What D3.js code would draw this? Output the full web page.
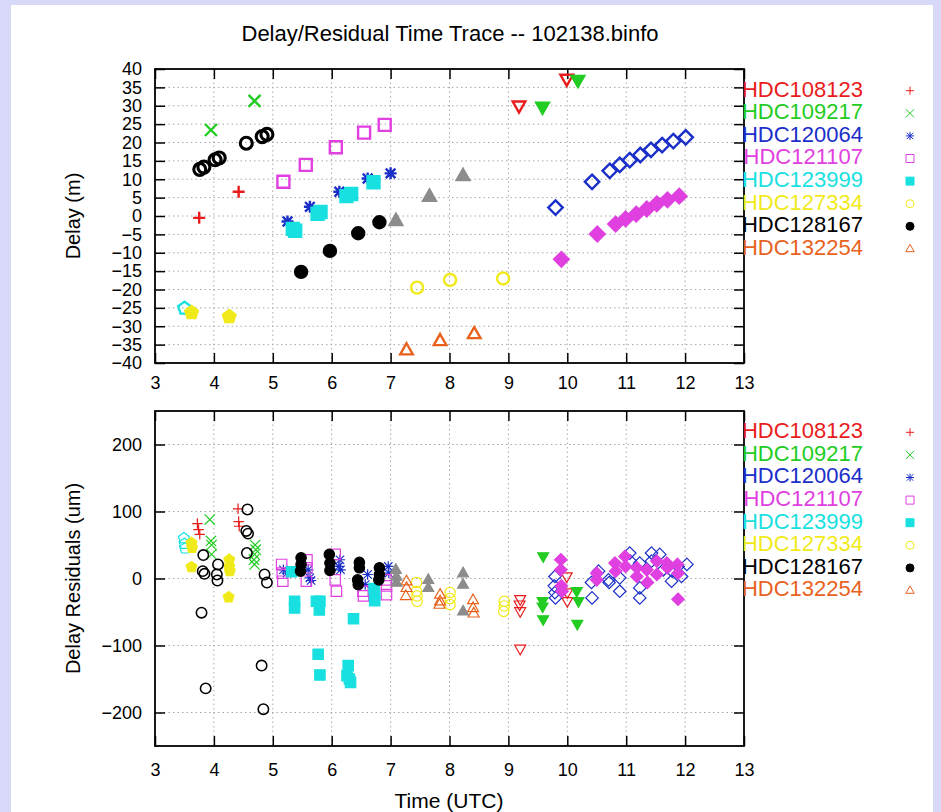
<!DOCTYPE html>
<html>
<head>
<meta charset="utf-8">
<script src="https://cdn.jsdelivr.net/npm/d3@7"></script>
<style>
  body { margin: 0; background: #d8d8f8; }
  svg { display: block; }
  text { font-family: "Liberation Sans", Arial, Helvetica, sans-serif; }
</style>
</head>
<body>
<svg id="chart" width="941" height="812"></svg>
<script>
// legend names (only the first 8 series have a key entry)
const stations = ["HDC108123", "HDC109217", "HDC120064", "HDC121107",
                  "HDC123999", "HDC127334", "HDC128167", "HDC132254"];

// x axis ticks (hours UTC)
const timeTicks = d3.range(3, 14);
const delayTicks = d3.range(-40, 41, 5);
const residTicks = [-200, -100, 0, 100, 200];

// delay (m) per series, [time, delay]
const delay01 = [[3.75, -0.5], [4.42, 6.6]];
const delay02 = [[3.95, 23.4], [4.69, 31.3]];
const delay03 = [[5.25, -1.5], [5.63, 2.5], [6.13, 6.6], [6.61, 10.2], [7.0, 11.6]];
const delay04 = [[5.18, 9.3], [5.56, 13.9], [6.07, 18.7], [6.55, 22.7], [6.9, 24.8]];
const delay05 = [[5.34, -3.5], [5.38, -4.0], [5.76, 0.6], [5.81, 1.1], [6.25, 5.4], [6.33, 6.0], [6.71, 9.2]];
const delay06 = [[7.45, -19.5], [8.01, -17.4], [8.91, -17.0]];
const delay07 = [[5.48, -15.2], [5.97, -9.5], [6.45, -4.7], [6.81, -1.7]];
const delay08 = [[7.27, -36.5], [7.84, -34.0], [8.42, -32.1]];
const delay09 = [[7.09, -1.3], [7.66, 5.3], [8.23, 10.9]];
const delay10 = [[9.18, 30.0], [9.99, 37.3]];
const delay11 = [[9.58, 29.7], [10.18, 37.0]];
const delay12 = [[9.80, 2.3], [10.42, 9.3], [10.72, 12.3], [10.89, 13.9], [11.06, 15.2], [11.24, 16.6],
                 [11.42, 18.0], [11.61, 19.3], [11.80, 20.4], [12.01, 21.4]];
const delay13 = [[9.90, -11.8], [10.51, -4.9], [10.82, -2.2], [10.99, -0.8], [11.17, 0.5], [11.35, 1.9],
                 [11.52, 3.3], [11.70, 4.4], [11.90, 5.4]];
const delay14 = [[3.5, -25.1]];
const delay15 = [[3.62, -26.3], [4.26, -27.4]];
const delay16 = [[3.76, 12.7], [3.83, 13.3], [4.02, 15.3], [4.09, 15.8], [4.55, 19.8], [4.82, 21.6], [4.9, 22.2]];

// delay residuals (um) per series, [time, residual]
const resid01 = [[3.72, 82], [3.74, 73], [3.76, 66], [4.41, 104], [4.42, 85], [4.43, 78]];
const resid02 = [[3.93, 88], [3.95, 56], [3.96, 50], [3.96, 36], [4.70, 50], [4.71, 43], [4.69, 36], [4.68, 28], [4.69, 21]];
const resid03 = [[5.18, 13], [5.24, 8], [5.6, 13], [5.63, 1], [5.65, -3], [6.14, 28], [6.15, 13], [6.12, 18],
                 [6.61, 6], [6.57, -9], [6.96, 18], [6.97, 8]];
const resid04 = [[5.15, 21], [5.16, 8], [5.17, -4], [5.58, 28], [5.58, 16], [5.57, -4], [6.06, 36], [6.06, -2],
                 [6.08, -19], [6.54, -26], [6.53, -19], [6.93, -11], [6.93, -24], [6.92, -2]];
const resid05 = [[5.32, 10], [5.37, -34], [5.37, -44], [5.74, -34], [5.8, -34], [5.79, -47], [5.77, -113], [5.8, -144],
                 [6.37, -60], [6.28, -130], [6.26, -145], [6.32, -155], [6.3, -150], [6.72, -15], [6.73, -25], [6.73, -33]];
const resid06 = [[7.44, -6], [7.44, -19], [7.45, -26], [7.45, -34], [8.01, -21], [8.01, -39], [8.01, -30],
                 [8.93, -34], [8.92, -49], [8.93, -41]];
const resid07 = [[5.48, 31], [5.48, 21], [5.47, 11], [5.96, 36], [5.97, 23], [5.97, 12], [6.47, 24], [6.47, 16],
                 [6.44, -2], [6.45, -9], [6.81, 16], [6.81, 6], [6.8, -2]];
const resid08 = [[7.27, -4], [7.27, -14], [7.26, -26], [7.84, -24], [7.84, -34], [7.83, -39], [8.40, -32], [8.40, -44], [8.41, -52]];
const resid09 = [[7.09, 13], [7.1, 3], [7.1, -6], [7.64, -2], [7.64, -14], [8.23, 8], [8.23, -9], [8.23, -49]];
const resid10 = [[9.2, -31], [9.19, -39], [9.2, -49], [9.2, -105], [9.99, 3], [10.0, -21], [10.0, -34]];
const resid11 = [[9.59, 33], [9.58, -34], [9.58, -42], [9.59, -61], [10.16, -19], [10.19, -34], [10.17, -68]];
const resid12 = [[9.79, 3], [9.78, -11], [9.79, -21], [9.8, -29], [10.41, -6], [10.42, -29], [10.53, 11], [10.70, -2],
                 [10.71, -6], [10.89, 1], [10.89, -19], [11.06, 38], [11.07, 26], [11.23, 23], [11.23, -14], [11.23, -29],
                 [11.43, 38], [11.43, 26], [11.57, 36], [11.63, 13], [11.77, -4], [11.78, 11], [11.88, 18], [12.03, 21], [11.94, 3]];
const resid13 = [[9.89, 28], [9.89, 13], [9.9, -11], [9.91, -19], [10.5, 8], [10.5, -2], [10.81, 23], [10.82, 11],
                 [10.98, 33], [10.99, 18], [11.18, 16], [11.18, 3], [11.35, 13], [11.36, -6], [11.52, 26], [11.52, 6],
                 [11.69, 23], [11.7, 16], [11.87, 21], [11.88, 8], [11.88, -31]];
const resid14 = [[3.49, 60], [3.5, 52], [3.51, 45]];
const resid15 = [[3.62, 53], [3.63, 46], [3.62, 17], [4.26, 28], [4.26, 18], [4.27, 11], [4.25, -28]];
const resid16 = [[3.82, 35], [3.81, 11], [3.84, 7], [4.07, 21], [4.05, 6], [4.06, -3], [3.79, -51], [3.86, -164],
                 [4.57, 103], [4.55, 71], [4.58, 67], [4.56, 38], [4.86, 6], [4.9, -6], [4.81, -130], [4.84, -195]];

const delaySets = [delay01, delay02, delay03, delay04, delay05, delay06, delay07, delay08,
                   delay09, delay10, delay11, delay12, delay13, delay14, delay15, delay16];
const residSets = [resid01, resid02, resid03, resid04, resid05, resid06, resid07, resid08,
                   resid09, resid10, resid11, resid12, resid13, resid14, resid15, resid16];

// gnuplot style colour cycle and point types
const colors = ["#e81c1c", "#22cc22", "#1a2ec8", "#e040e0", "#19e0e0", "#f0ea1a", "#000000", "#e8621e", "#8c8c8c"];
const pointTypes = ["plus", "cross", "star", "square", "fsquare", "circle", "fcircle", "tri",
                    "ftri", "itri", "fitri", "diamond", "fdiamond", "pent", "fpent", "circle"];

function pointPath(type, r) {
  const t = type.replace(/^f/, "");
  const k = r * 0.8;
  switch (t) {
    case "plus": return `M${-r},0H${r}M0,${-r}V${r}`;
    case "cross": return `M${-r},${-r}L${r},${r}M${-r},${r}L${r},${-r}`;
    case "star": return `M${-r},0H${r}M0,${-r}V${r}M${-k},${-k}L${k},${k}M${-k},${k}L${k},${-k}`;
    case "square": return `M${-r},${-r}H${r}V${r}H${-r}Z`;
    case "circle": return `M${r},0A${r},${r} 0 1,1 ${-r},0A${r},${r} 0 1,1 ${r},0Z`;
    case "tri": return `M0,${-r * 1.15}L${r * 1.05},${r * 0.7}L${-r * 1.05},${r * 0.7}Z`;
    case "itri": return `M0,${r * 1.15}L${r * 1.05},${-r * 0.7}L${-r * 1.05},${-r * 0.7}Z`;
    case "diamond": return `M0,${-r * 1.2}L${r * 1.2},0L0,${r * 1.2}L${-r * 1.2},0Z`;
    case "pent": {
      const pts = d3.range(5).map(i => {
        const a = -Math.PI / 2 + i * 2 * Math.PI / 5;
        return [r * 1.1 * Math.cos(a), r * 1.1 * Math.sin(a)];
      });
      return "M" + pts.map(p => p.join(",")).join("L") + "Z";
    }
  }
}
const isFilled = type => type.startsWith("f");

const svg = d3.select("#chart");
svg.append("rect")
  .attr("x", 11).attr("y", 5).attr("width", 922).attr("height", 807)
  .attr("fill", "#ffffff");

const x = d3.scaleLinear().domain([3, 13]).range([155, 744]);

function drawPanel(p) {
  const y = d3.scaleLinear().domain(p.domain).range([p.bottom, p.top]);
  const g = svg.append("g");

  // dotted grid
  const grid = g.append("g")
    .attr("stroke", "#a8a8a8").attr("stroke-width", 1).attr("stroke-dasharray", "1.5,3");
  grid.selectAll("line.v").data(timeTicks.slice(1, -1)).enter().append("line")
    .attr("x1", d => x(d)).attr("x2", d => x(d))
    .attr("y1", p.top).attr("y2", p.bottom);
  grid.selectAll("line.h").data(p.ticks.filter(t => t > p.domain[0] && t < p.domain[1])).enter().append("line")
    .attr("x1", x.range()[0]).attr("x2", x.range()[1])
    .attr("y1", d => y(d)).attr("y2", d => y(d));

  // ticks on all four sides, pointing inward
  const axes = [
    [d3.axisBottom(x).tickValues(timeTicks).tickSize(-10).tickPadding(p.xPad), `translate(0,${p.bottom})`],
    [d3.axisTop(x).tickValues(timeTicks).tickSize(-10).tickFormat(""), `translate(0,${p.top})`],
    [d3.axisLeft(y).tickValues(p.ticks).tickSize(-10).tickPadding(13), `translate(${x.range()[0]},0)`],
    [d3.axisRight(y).tickValues(p.ticks).tickSize(-10).tickFormat(""), `translate(${x.range()[1]},0)`]
  ];
  for (const [ax, tr] of axes) {
    const a = g.append("g").attr("transform", tr).call(ax.tickSizeOuter(0));
    a.select(".domain").remove();
    a.selectAll("line").attr("stroke", "#000").attr("stroke-width", 1.5);
    a.selectAll("text").attr("font-size", 18).attr("fill", "#000")
      .attr("font-family", "Liberation Sans, Arial, sans-serif");
  }

  g.append("rect")
    .attr("x", x.range()[0]).attr("y", p.top)
    .attr("width", x.range()[1] - x.range()[0]).attr("height", p.bottom - p.top)
    .attr("fill", "none").attr("stroke", "#000").attr("stroke-width", 1.8);

  // points
  p.sets.forEach((set, i) => {
    const type = pointTypes[i];
    const col = colors[i % colors.length];
    g.append("g").selectAll("path").data(set).enter().append("path")
      .attr("d", pointPath(type, p.r))
      .attr("transform", d => `translate(${x(d[0])},${y(d[1])})`)
      .attr("fill", isFilled(type) ? col : "none")
      .attr("stroke", col)
      .attr("stroke-width", i === 15 ? p.sw * 1.3 : p.sw);
  });

  // y label
  g.append("text")
    .attr("transform", `translate(75,${(p.top + p.bottom) / 2}) rotate(-90)`)
    .attr("text-anchor", "middle").attr("dominant-baseline", "middle")
    .attr("font-size", 20).text(p.label);

  // key
  const key = g.append("g");
  stations.forEach((name, i) => {
    const yy = p.keyTop + i * 22.6;
    key.append("text")
      .attr("x", 863).attr("y", yy)
      .attr("text-anchor", "end").attr("dominant-baseline", "middle")
      .attr("font-size", 22).attr("fill", colors[i]).text(name);
    key.append("path")
      .attr("d", pointPath(pointTypes[i], 4))
      .attr("transform", `translate(910,${yy})`)
      .attr("fill", isFilled(pointTypes[i]) ? colors[i] : "none")
      .attr("stroke", colors[i]).attr("stroke-width", 1);
  });
}

drawPanel({ top: 69, bottom: 363, domain: [-40, 40], ticks: delayTicks, sets: delaySets,
            label: "Delay (m)", r: 6, sw: 2.4, xPad: 13, keyTop: 90.7 });
drawPanel({ top: 411, bottom: 746, domain: [-250, 250], ticks: residTicks, sets: residSets,
            label: "Delay Residuals (um)", r: 5.2, sw: 1.2, xPad: 17, keyTop: 432.3 });

svg.append("text")
  .attr("x", 450).attr("y", 35)
  .attr("text-anchor", "middle").attr("dominant-baseline", "middle")
  .attr("font-size", 22).text("Delay/Residual Time Trace -- 102138.binfo");

svg.append("text")
  .attr("x", 449).attr("y", 802)
  .attr("text-anchor", "middle").attr("dominant-baseline", "middle")
  .attr("font-size", 21).text("Time (UTC)");
</script>
</body>
</html>
